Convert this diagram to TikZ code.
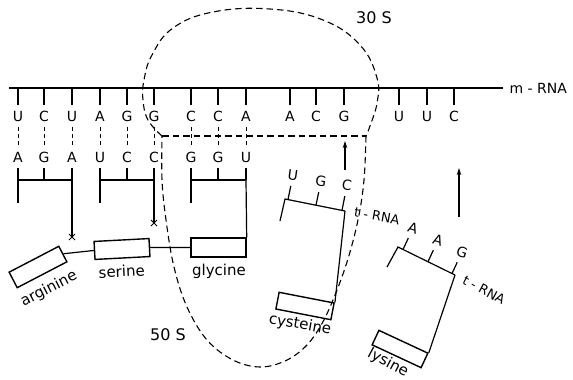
\documentclass[tikz,border=0pt]{standalone}
\usepackage{fontspec}
\setmainfont{DejaVu Sans}
\usetikzlibrary{arrows.meta}
\begin{document}
\begin{tikzpicture}[x=1pt,y=-1pt,line width=1.2pt,
  codon/.style={font=\fontsize{14}{14}\selectfont, inner sep=0pt, outer sep=6pt},
  aabox/.style={draw, line width=1.4pt, minimum width=55pt, minimum height=18pt, inner sep=0pt},
  aalabel/.style={font=\fontsize{15}{15}\selectfont, inner sep=0pt},
  rnalabel/.style={font=\fontsize{13}{13}\selectfont, inner sep=0pt},
  sublabel/.style={font=\fontsize{16}{16}\selectfont, inner sep=0pt},
  ribo/.style={dash pattern=on 6.5pt off 4pt, line width=1.1pt},
  pairline/.style={dash pattern=on 4pt off 3pt, line width=1pt},
  upstroke/.style={-{Stealth[length=7pt,width=4.5pt]}}
]
\useasboundingbox (0,0) rectangle (573,380);

% m-RNA
\coordinate (mL) at (9,88);
\coordinate (mR) at (503,88);
\draw (mL) -- (mR);
\node[rnalabel, font=\fontsize{14}{14}\selectfont, anchor=west] (mrna) at (509,88) {m - RNA};

% codons
\foreach \i/\x/\l in {1/18/U,2/44/C,3/72/U,4/100/A,5/127/G,6/154/G,7/191/C,8/218/C,9/246/A,10/290/A,11/316/C,12/344/G,13/399/U,14/427/U,15/454/C}{
  \node[codon] (c\i) at (\x,116) {\l};
  \draw (c\i.north |- mL) -- (c\i.north);
}
% anticodons
\foreach \i/\x/\l in {1/18/A,2/44/G,3/72/A,4/100/U,5/127/C,6/154/C,7/191/G,8/218/G,9/246/U}{
  \node[codon] (a\i) at (\x,157) {\l};
  \draw[pairline] (c\i.south) -- (a\i.north);
}
% bars of the three bound t-RNAs
\foreach \k/\p/\q in {1/1/3,2/4/6,3/7/9}{
  \coordinate (bL\k) at (a\p.south |- 0,180);
  \coordinate (bR\k) at (a\q.south |- 0,180);
  \coordinate (tL\k) at (a\p.south |- 0,203);
  \draw (bL\k) -- (bR\k);
  \draw (bL\k) -- (tL\k);
}
\foreach \i in {1,...,9}{ \draw (a\i.south) -- (a\i.south |- 0,180); }

% amino acids of the chain
\node[aabox, minimum height=19pt] (gly) at (218.5,247.5) {};
\node[aabox, rotate=3] (ser) at (122,249) {};
\node[aabox, minimum width=56pt, minimum height=17.5pt, rotate=27.5] (arg) at (38,267) {};
\draw (arg.east) -- (ser.west);
\draw (ser.east) -- (gly.west);
\node[aalabel, anchor=base] (glyl) at (219,275) {glycine};
\node[aalabel, anchor=base, rotate=3] (serl) at (122,277) {serine};
\node[aalabel, rotate=27] (argl) at (49,289) {arginine};

% free ends with crosses
\coordinate (x1) at (72,237);
\coordinate (x2) at (154,223);
\draw (bR1) -- (x1);
\draw (bR2) -- (x2);
\foreach \n in {x1,x2}{
  \draw[line width=1pt] (\n) +(-3,-3) -- +(3,3);
  \draw[line width=1pt] (\n) +(-3,3) -- +(3,-3);
}
\draw (bR3) -- (gly.north east);

% cysteine t-RNA
\coordinate (cysL) at (285,199);
\coordinate (cysR) at (345,211);
\coordinate (cysT) at (280,221);
\draw (cysT) -- (cysL) -- (cysR);
\coordinate (cb1) at (288,199.6);
\coordinate (cb2) at (316,205.2);
\coordinate (cb3) at (342,210.4);
\node[codon, rotate=-8] (cu) at (293,175) {U};
\node[codon, rotate=-8] (cg) at (321,181) {G};
\node[codon, rotate=-8] (cc) at (347,185) {C};
\draw (cb1) -- (cu);
\draw (cb2) -- (cg);
\draw (cb3) -- (cc);
\node[aabox, minimum width=56pt, minimum height=17pt, rotate=-11] (cys) at (305,306) {};
\draw (cysR) -- (cys.north east);
\node[aalabel, rotate=-10] (cysl) at (300,325) {cysteine};
\node[rnalabel, rotate=-10] (trna1) at (377,216) {t - RNA};

% lysine t-RNA
\coordinate (lysL) at (398,247);
\coordinate (lysR) at (455,275);
\coordinate (lysT) at (387,267);
\draw (lysT) -- (lysL) -- (lysR);
\coordinate (lb1) at (403,249.5);
\coordinate (lb2) at (428,261.7);
\coordinate (lb3) at (452,273.5);
\node[codon, rotate=-18] (la1) at (413,228) {A};
\node[codon, rotate=-18] (la2) at (438,240) {A};
\node[codon, rotate=-18] (lg) at (462,252) {G};
\draw (lb1) -- (la1);
\draw (lb2) -- (la2);
\draw (lb3) -- (lg);
\node[aabox, minimum width=54pt, minimum height=16pt, rotate=-25] (lys) at (400,349) {};
\draw (lysR) -- (lys.north east);
\node[aalabel, rotate=-28] (lysl) at (388,363) {lysine};
\node[rnalabel, rotate=-28] (trna2) at (484,290) {t - RNA};

% arrows
\coordinate (ar1s) at (345,170);
\coordinate (ar1e) at (345,141);
\coordinate (ar2s) at (459,217);
\coordinate (ar2e) at (459,168);
\draw[upstroke] (ar1s) -- (ar1e);
\draw[upstroke] (ar2s) -- (ar2e);

% ribosome subunits
\coordinate (r1) at (162,136);
\coordinate (r2) at (366,136);
\draw[ribo] plot[smooth, tension=0.7] coordinates {(162,136) (148,120) (143,100) (144,80) (152,55) (173,28) (213,12) (270,9) (323,20) (360,45) (377,78) (377,103) (370,126) (366,136)};
\draw[ribo] (r1) -- (r2);
\draw[ribo] plot[smooth, tension=0.6] coordinates {(366,136) (364,180) (358,220) (347,262) (333,300) (320,327) (305,347) (285,361) (260,367) (233,360) (207,340) (187,307) (174,267) (166,220) (162,180) (162,136)};
\node[sublabel] (s30) at (374,18) {30 S};
\node[sublabel] (s50) at (168,335) {50 S};
\end{tikzpicture}
\end{document}
